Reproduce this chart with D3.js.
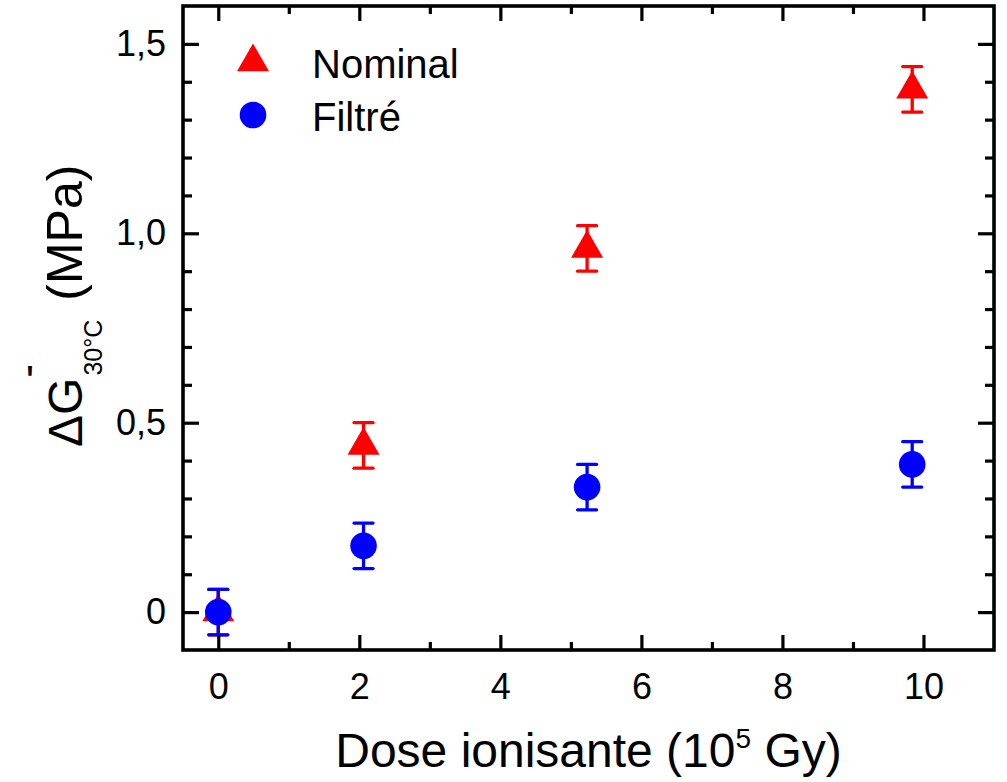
<!DOCTYPE html>
<html>
<head>
<meta charset="utf-8">
<script src="https://cdn.jsdelivr.net/npm/d3@7"></script>
<style>
  html, body { margin: 0; padding: 0; background: #fff; }
  svg { display: block; }
  text { font-family: "Liberation Sans", Arial, sans-serif; fill: #000; }
</style>
</head>
<body>
<svg id="chart" width="1007" height="782"></svg>
<script>
// ---- data ----
const doses = [0, 2.06, 5.23, 9.84];
const nominal = [0, 0.44, 0.96, 1.38];
const nominalErr = [0.06, 0.06, 0.06, 0.06];
const filtre = [0, 0.175, 0.33, 0.39];
const filtreErr = [0.06, 0.06, 0.06, 0.06];
const xMajorTicks = [0, 2, 4, 6, 8, 10];
const xMinorTicks = [1, 3, 5, 7, 9];
const yMajorTicks = [0, 0.5, 1.0, 1.5];
const yTickLabels = ["0", "0,5", "1,0", "1,5"];
const yMinorTicks = [0.1, 0.2, 0.3, 0.4, 0.6, 0.7, 0.8, 0.9, 1.1, 1.2, 1.3, 1.4];
const seriesNames = ["Nominal", "Filtré"];
const xTitle = ["Dose ionisante (10", "5", " Gy)"];
const yTitle = ["ΔG", "'", "30°C", "(MPa)"];

// ---- layout ----
const L = 183, R = 994, T = 6, B = 650;
const svg = d3.select("#chart");
const x = d3.scaleLinear().domain([-0.5, 11]).range([L, R]);
const y = d3.scaleLinear().domain([-0.1, 1.6]).range([B, T]);

const red = "#ff0000", blue = "#0000ff";
const triSize = 443;
const circR = 13.3;
const capHalf = 9.5;

function drawSeries(vals, errs, color, shape) {
  const g = svg.append("g");
  doses.forEach((d, i) => {
    const cx = x(d), cy = y(vals[i]);
    const y1 = y(vals[i] + errs[i]), y2 = y(vals[i] - errs[i]);
    g.append("line").attr("x1", cx).attr("x2", cx).attr("y1", y1).attr("y2", y2)
      .attr("stroke", color).attr("stroke-width", 3.3);
    [y1, y2].forEach(yy => g.append("line")
      .attr("x1", cx - capHalf).attr("x2", cx + capHalf).attr("y1", yy).attr("y2", yy)
      .attr("stroke", color).attr("stroke-width", 3.3).attr("stroke-linecap", "round"));
    if (shape === "tri") {
      g.append("path").attr("d", d3.symbol(d3.symbolTriangle, triSize)())
        .attr("transform", `translate(${cx},${cy})`).attr("fill", color);
    } else {
      g.append("circle").attr("cx", cx).attr("cy", cy).attr("r", circR).attr("fill", color);
    }
  });
}
drawSeries(nominal, nominalErr, red, "tri");
drawSeries(filtre, filtreErr, blue, "circ");

// ---- axes ----
const tickFont = 36;
function styleAxis(g) {
  g.select(".domain").remove();
  g.selectAll(".tick line").attr("stroke", "#000").attr("stroke-width", 3.2);
  g.selectAll(".tick text").attr("font-size", tickFont)
    .attr("font-family", '"Liberation Sans", Arial, sans-serif').attr("fill", "#000");
}
// bottom
svg.append("g").attr("transform", `translate(0,${B})`)
  .call(d3.axisBottom(x).tickValues(xMajorTicks).tickSize(-15).tickPadding(23).tickFormat(d3.format("d")))
  .call(styleAxis);
svg.append("g").attr("transform", `translate(0,${B})`)
  .call(d3.axisBottom(x).tickValues(xMinorTicks).tickSize(-8).tickFormat(""))
  .call(styleAxis);
// top
svg.append("g").attr("transform", `translate(0,${T})`)
  .call(d3.axisTop(x).tickValues(xMajorTicks).tickSize(-15).tickFormat(""))
  .call(styleAxis);
svg.append("g").attr("transform", `translate(0,${T})`)
  .call(d3.axisTop(x).tickValues(xMinorTicks).tickSize(-8).tickFormat(""))
  .call(styleAxis);
// left
svg.append("g").attr("transform", `translate(${L},0)`)
  .call(d3.axisLeft(y).tickValues(yMajorTicks).tickSize(-16).tickPadding(17)
    .tickFormat((d, i) => yTickLabels[i]))
  .call(styleAxis);
svg.append("g").attr("transform", `translate(${L},0)`)
  .call(d3.axisLeft(y).tickValues(yMinorTicks).tickSize(-9).tickFormat(""))
  .call(styleAxis);
// right
svg.append("g").attr("transform", `translate(${R},0)`)
  .call(d3.axisRight(y).tickValues(yMajorTicks).tickSize(-16).tickFormat(""))
  .call(styleAxis);
svg.append("g").attr("transform", `translate(${R},0)`)
  .call(d3.axisRight(y).tickValues(yMinorTicks).tickSize(-9).tickFormat(""))
  .call(styleAxis);

// frame
svg.append("rect").attr("x", L).attr("y", T).attr("width", R - L).attr("height", B - T)
  .attr("fill", "none").attr("stroke", "#000").attr("stroke-width", 3.6);

// ---- x title ----
const xt = svg.append("text").attr("x", (L + R) / 2).attr("y", 767)
  .attr("text-anchor", "middle").attr("font-size", 48);
xt.append("tspan").text(xTitle[0]);
xt.append("tspan").attr("font-size", 28).attr("dy", -19).text(xTitle[1]);
xt.append("tspan").attr("dy", 19).text(xTitle[2]);

// ---- y title ----
const yt = svg.append("text").attr("transform", "translate(82,447) rotate(-90)")
  .attr("font-size", 48);
yt.append("tspan").text(yTitle[0]);
yt.append("tspan").attr("font-size", 25).attr("dy", 20).attr("dx", 2).text(yTitle[2]);
yt.append("tspan").attr("dy", -20).attr("dx", 19).attr("font-size", 50).text(yTitle[3]);
// prime mark (upright)
svg.append("text").attr("x", 30).attr("y", 397).attr("text-anchor", "middle")
  .attr("font-size", 44).text(yTitle[1]);

// ---- legend ----
const legY = [62, 115];
svg.append("path").attr("d", d3.symbol(d3.symbolTriangle, triSize)())
  .attr("transform", `translate(253,${legY[0]})`).attr("fill", red);
svg.append("circle").attr("cx", 253).attr("cy", legY[1]).attr("r", circR).attr("fill", blue);
seriesNames.forEach((n, i) => {
  svg.append("text").attr("x", 312).attr("y", legY[i] + 16).attr("font-size", 40).text(n);
});
</script>
</body>
</html>
